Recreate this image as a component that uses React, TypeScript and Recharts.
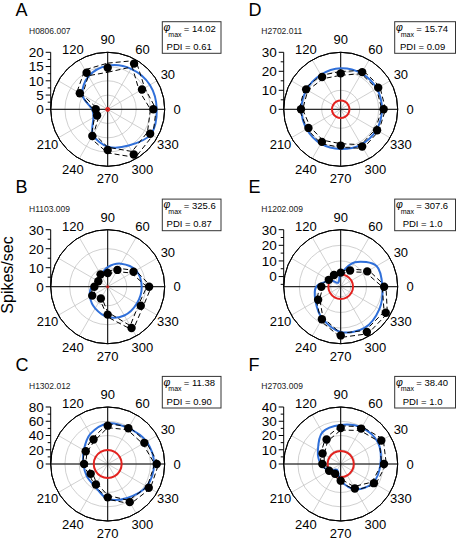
import React from "react";
import { RadarChart, Radar, PolarGrid, PolarAngleAxis, PolarRadiusAxis } from "recharts";

const FONT = "'Liberation Sans', Arial, Helvetica, sans-serif";
const R = 57;
const BLUE = "#2f6fd9";
const RED = "#e3221f";
const GRID = "#c4c4c4";

// stimulus directions (deg) and which ones get a label
const ANGLES = [0, 30, 60, 90, 120, 150, 180, 210, 240, 270, 300, 330];
const ANGLE_LABELS = [0, 30, 60, 90, 120, 210, 240, 270, 300, 330];

// A  H0806.007
const rateA = [16.0, 13.9, 18.5, 14.6, 14.8, 11.3, 4.2, 4.3, 10.8, 14.3, 18.3, 17.2];
const hiA = [17.0, 15.0, 19.8, 16.2, 16.0, 12.4, 5.0, 5.3, 11.8, 15.3, 19.5, 18.3];
const loA = [15.0, 12.8, 17.2, 13.0, 13.6, 10.2, 3.4, 3.3, 9.8, 13.3, 17.1, 16.1];
const fitA = [17.2, 17.1, 16.4, 15.3, 13.4, 10.3, 5.5, 5.8, 10.3, 13.1, 14.7, 17.5];
const spontA = 0.5;

// B  H1103.009
const rateB = [21.8, 15.7, 10.2, 7.2, 7.5, 5.7, 7.0, 9.4, 7.2, 14.7, 25.1, 20.1];
const hiB = [23.0, 17.0, 11.2, 8.0, 8.3, 6.5, 7.8, 10.4, 8.0, 16.0, 26.5, 21.4];
const loB = [20.6, 14.4, 9.2, 6.4, 6.7, 4.9, 6.2, 8.4, 6.4, 13.4, 23.7, 18.8];
const fitB = [17.9, 17.2, 14.0, 10.3, 6.9, 5.5, 8.4, 10.8, 13.2, 16.0, 17.5, 17.7];
const spontB = 0.25;

// C  H1302.012
const rateC = [68.8, 59.4, 58.0, 53.8, 39.8, 35.6, 33.2, 27.6, 33.2, 46.8, 61.8, 66.5];
const hiC = [71.5, 62.0, 60.5, 56.5, 42.0, 37.5, 35.5, 30.0, 35.5, 49.5, 64.5, 69.0];
const loC = [66.0, 56.8, 55.5, 51.0, 37.5, 33.5, 31.0, 25.0, 31.0, 44.0, 59.0, 64.0];
const fitC = [65, 63, 58, 57, 48.7, 38.8, 34, 34, 36, 49, 55, 63];
const spontC = 19.6;

// D  H2702.011
const rateD = [22.6, 22.8, 22.6, 18.9, 19.6, 21.0, 20.9, 19.6, 19.8, 19.1, 22.6, 22.1];
const hiD = [23.6, 23.8, 23.6, 19.9, 20.6, 22.0, 21.8, 20.6, 20.8, 20.1, 23.7, 23.1];
const loD = [21.6, 21.8, 21.6, 17.9, 18.6, 20.0, 20.0, 18.6, 18.8, 18.1, 21.5, 21.1];
const fitD = [21.7, 21.9, 21.8, 21.6, 21.0, 20.7, 20.7, 20.7, 20.9, 20.9, 21.4, 21.7];
const spontD = 4.6;

// E  H1202.009
const rateE = [21.3, 13.1, 5.5, 2.5, 2.1, 2.3, 5.9, 10.2, 17.6, 24.7, 27.0, 26.8];
const hiE = [22.5, 14.3, 6.5, 3.4, 3.0, 3.2, 6.9, 11.4, 18.9, 26.0, 28.3, 28.0];
const loE = [20.1, 11.9, 4.5, 1.6, 1.2, 1.4, 4.9, 9.0, 16.3, 23.4, 25.7, 25.6];
const fitE = [20.2, 20.0, 11.6, 1.6, -3.5, 1.0, 9.1, 12.1, 17.0, 22.5, 24.0, 22.1];
const spontE = 1.4;

// F  H2703.009
const rateF = [30.4, 32.9, 28.7, 25.3, 19.8, 14.7, 12.9, 9.4, 7.9, 11.7, 19.8, 26.9];
const hiF = [32.0, 34.5, 30.2, 26.8, 21.2, 16.0, 14.2, 10.6, 9.1, 13.0, 21.3, 28.4];
const loF = [28.8, 31.3, 27.2, 23.8, 18.4, 13.4, 11.6, 8.2, 6.7, 10.4, 18.3, 25.4];
const fitF = [27.9, 30.2, 29.5, 27.4, 25.7, 18.5, 14.0, 9.1, 4.9, 11.7, 20.6, 26.3];
const spontF = 9.2;

// radial scales
const scale20 = { domain: [0, 20], major: [0, 5, 10, 15, 20], minor: [2.5, 7.5, 12.5, 17.5] };
const scale30 = { domain: [0, 30], major: [0, 10, 20, 30], minor: [5, 15, 25] };
const scale80 = { domain: [0, 80], major: [0, 20, 40, 60, 80], minor: [10, 30, 50, 70] };
const scale30neg = { domain: [-6.5, 30], major: [0, 10, 20, 30], minor: [-5, 5, 15, 25] };
const scale40 = { domain: [0, 40], major: [0, 10, 20, 30, 40], minor: [5, 15, 25, 35] };

const PANELS = [
  { letter: "A", cellId: "H0806.007", phi: "14.02", pdi: "0.61", rate: rateA, hi: hiA, lo: loA, fit: fitA, spont: spontA, scale: scale20, col: 0, row: 0 },
  { letter: "B", cellId: "H1103.009", phi: "325.6", pdi: "0.87", rate: rateB, hi: hiB, lo: loB, fit: fitB, spont: spontB, scale: scale30, col: 0, row: 1 },
  { letter: "C", cellId: "H1302.012", phi: "11.38", pdi: "0.90", rate: rateC, hi: hiC, lo: loC, fit: fitC, spont: spontC, scale: scale80, col: 0, row: 2 },
  { letter: "D", cellId: "H2702.011", phi: "15.74", pdi: "0.09", rate: rateD, hi: hiD, lo: loD, fit: fitD, spont: spontD, scale: scale30, col: 1, row: 0 },
  { letter: "E", cellId: "H1202.009", phi: "307.6", pdi: "1.0", rate: rateE, hi: hiE, lo: loE, fit: fitE, spont: spontE, scale: scale30neg, col: 1, row: 1 },
  { letter: "F", cellId: "H2703.009", phi: "38.40", pdi: "1.0", rate: rateF, hi: hiF, lo: loF, fit: fitF, spont: spontF, scale: scale40, col: 1, row: 2 },
];

const COL_X = [107.7, 340.7];
const ROW_Y = [109.3, 286.7, 464];

// recharts radar walks clockwise from the top, so feed the rows 90, 60, 30, 0, 330 ...
const ROW_ORDER = ANGLES.map((_, k) => ANGLES.indexOf((90 - 30 * k + 360) % 360));

// closed catmull-rom through the points recharts computed
function smoothClosed(pts: any[]) {
  const n = pts.length;
  if (!n) return "";
  let d = `M${pts[0].x},${pts[0].y}`;
  for (let i = 0; i < n; i++) {
    const p0 = pts[(i - 1 + n) % n];
    const p1 = pts[i];
    const p2 = pts[(i + 1) % n];
    const p3 = pts[(i + 2) % n];
    d += ` C${p1.x + (p2.x - p0.x) / 6},${p1.y + (p2.y - p0.y) / 6} ${p2.x - (p3.x - p1.x) / 6},${p2.y - (p3.y - p1.y) / 6} ${p2.x},${p2.y}`;
  }
  return d + "Z";
}

const smoothShape = (color: string, width: number) => (props: any) => (
  <path d={smoothClosed(props.points || [])} fill="none" stroke={color} strokeWidth={width} strokeLinejoin="round" />
);

const angleTick = (p: any) => {
  const v = Number(p.payload?.value);
  if (!ANGLE_LABELS.includes(v)) return <g />;
  return (
    <text x={p.x} y={p.y} dy="0.36em" textAnchor="middle" fontSize={13} fill="#000" fontFamily={FONT}>
      {v}
    </text>
  );
};

const makeMajorTick = (top: number) => (p: any) => {
  const v = p.payload?.value;
  const x0 = p.x - R;
  return (
    <g>
      {v === top && <line x1={x0} x2={x0} y1={p.y} y2={p.y + R} stroke="#000" strokeWidth={1} />}
      <line x1={x0 - 5} x2={x0} y1={p.y} y2={p.y} stroke="#000" strokeWidth={1} />
      <text x={x0 - 7} y={p.y} dy="0.36em" textAnchor="end" fontSize={13.5} fill="#000" fontFamily={FONT}>
        {v}
      </text>
    </g>
  );
};

const minorTick = (p: any) => {
  const x0 = p.x - R;
  return <line x1={x0 - 3} x2={x0} y1={p.y} y2={p.y} stroke="#000" strokeWidth={1} />;
};

const dotFn = (p: any) => <circle key={`d${p.index}`} cx={p.cx} cy={p.cy} r={4.2} fill="#000" />;

function Panel({ p }: { p: any }) {
  const cx = COL_X[p.col];
  const cy = ROW_Y[p.row];
  const rows = ROW_ORDER.map((i) => ({
    angle: ANGLES[i],
    rate: p.rate[i],
    hi: p.hi[i],
    lo: p.lo[i],
    fit: p.fit[i],
    spont: p.spont,
  }));
  const top = p.scale.domain[1];
  return (
    <div style={{ position: "absolute", left: 0, top: 0 }}>
      <RadarChart
        width={456}
        height={545}
        data={rows}
        cx={cx}
        cy={cy}
        innerRadius={0}
        outerRadius={R}
        startAngle={90}
        endAngle={-270}
        margin={{ top: 0, right: 0, bottom: 0, left: 0 }}
      >
        <PolarGrid gridType="circle" stroke={GRID} strokeWidth={0.8} />
        <PolarGrid gridType="circle" stroke="#000" strokeWidth={1} polarAngles={[0, 90, 180, 270]} polarRadius={[R]} />
        <PolarAngleAxis
          dataKey="angle"
          axisLine={{ stroke: "#000", strokeWidth: 1 }}
          axisLineType="circle"
          tickLine={false}
          tickSize={12.5}
          tick={angleTick}
        />
        <PolarRadiusAxis
          angle={90}
          type="number"
          domain={p.scale.domain}
          ticks={p.scale.major}
          allowDataOverflow
          axisLine={false}
          tickLine={false}
          tick={makeMajorTick(top)}
        />
        <PolarRadiusAxis
          radiusAxisId="minor"
          angle={90}
          type="number"
          domain={p.scale.domain}
          ticks={p.scale.minor}
          allowDataOverflow
          axisLine={false}
          tickLine={false}
          tick={minorTick}
        />
        <Radar dataKey="spont" isAnimationActive={false} shape={smoothShape(RED, 2)} />
        <Radar dataKey="fit" isAnimationActive={false} shape={smoothShape(BLUE, 2)} />
        <Radar dataKey="hi" isAnimationActive={false} stroke="#000" strokeWidth={1} strokeDasharray="5 3" fill="none" dot={false} />
        <Radar dataKey="lo" isAnimationActive={false} stroke="#000" strokeWidth={1} strokeDasharray="5 3" fill="none" dot={false} />
        <Radar dataKey="rate" isAnimationActive={false} stroke="none" fill="none" dot={dotFn} />
      </RadarChart>
    </div>
  );
}

function Labels() {
  return (
    <svg width={456} height={545} style={{ position: "absolute", left: 0, top: 0, pointerEvents: "none" }} fontFamily={FONT}>
      <text transform="translate(12.5,275) rotate(-90)" textAnchor="middle" fontSize={16} fill="#000">
        Spikes/sec
      </text>
      {PANELS.map((p) => {
        const cy = ROW_Y[p.row];
        const left = p.col === 0;
        const bx = left ? 162.3 : 394.7;
        const bw = left ? 58.7 : 60.8;
        const by = cy - 87.6;
        return (
          <g key={p.letter}>
            <text x={left ? 15.5 : 248.5} y={cy - 93.3} fontSize={18} fill="#000">
              {p.letter}
            </text>
            <text x={left ? 29 : 261.3} y={cy - 75} fontSize={8.5} fill="#222">
              {p.cellId}
            </text>
            <rect x={bx} y={by} width={bw} height={31.6} fill="#fff" stroke="#333" strokeWidth={1} />
            <text x={bx + 1.2} y={cy - 78.3} fontSize={10.5} fontStyle="italic" fill="#000">
              φ
            </text>
            <text x={bx + 6} y={cy - 72.8} fontSize={7} fill="#000">
              max
            </text>
            <text x={bx + 21.5} y={cy - 77.6} fontSize={9.5} fill="#000">
              = {p.phi}
            </text>
            <text x={bx + bw / 2 - 2.5} y={cy - 59.3} fontSize={9.5} textAnchor="middle" fill="#000">
              PDI = {p.pdi}
            </text>
          </g>
        );
      })}
    </svg>
  );
}

export default function App() {
  return (
    <div style={{ position: "absolute", left: 0, top: 0, width: 456, height: 545, background: "#fff", fontFamily: FONT }}>
      {PANELS.map((p) => (
        <Panel key={p.letter} p={p} />
      ))}
      <Labels />
    </div>
  );
}
